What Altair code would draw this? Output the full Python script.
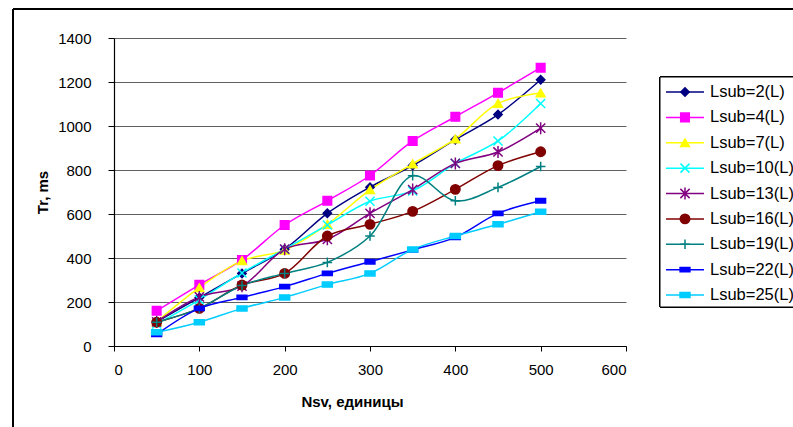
import altair as alt
import pandas as pd

nsv = [50, 100, 150, 200, 250, 300, 350, 400, 450, 500]
series = ["Lsub=2(L)", "Lsub=4(L)", "Lsub=7(L)", "Lsub=10(L)", "Lsub=13(L)",
          "Lsub=16(L)", "Lsub=19(L)", "Lsub=22(L)", "Lsub=25(L)"]
values = {
    "Lsub=2(L)":  [110, 220, 330, 440, 603, 722, 820, 938, 1052, 1210],
    "Lsub=4(L)":  [160, 278, 391, 550, 660, 775, 932, 1042, 1151, 1265],
    "Lsub=7(L)":  [110, 265, 388, 436, 553, 710, 828, 941, 1103, 1150],
    "Lsub=10(L)": [100, 210, 332, 440, 550, 658, 705, 830, 932, 1102],
    "Lsub=13(L)": [110, 223, 272, 440, 485, 603, 711, 830, 882, 990],
    "Lsub=16(L)": [108, 171, 277, 330, 500, 553, 612, 712, 820, 883],
    "Lsub=19(L)": [108, 171, 275, 330, 380, 500, 774, 660, 721, 816],
    "Lsub=22(L)": [53, 171, 221, 270, 330, 383, 437, 494, 603, 660],
    "Lsub=25(L)": [62, 108, 171, 221, 279, 330, 439, 500, 553, 610],
}
colors = ["#000080", "#FF00FF", "#FFFF00", "#00FFFF", "#800080",
          "#800000", "#008080", "#0000FF", "#00CCFF"]
shapes = ["diamond", "square", "triangle-up",
          "M-1,-1L1,1M-1,1L1,-1",
          "M-1,-1L1,1M-1,1L1,-1M0,-1.3L0,1.3",
          "circle",
          "M-1,0L1,0M0,-1L0,1",
          "M-1,-0.45L1,-0.45L1,0.45L-1,0.45Z",
          "M-1,-0.5L1,-0.5L1,0.5L-1,0.5Z"]
sizes = [70, 100, 110, 70, 90, 100, 81, 45, 64]

rows = []
for i, s in enumerate(series):
    for x, v in zip(nsv, values[s]):
        rows.append({"series": s, "nsv": x, "tr": v, "order": i})
df = pd.DataFrame(rows)
leg = pd.DataFrame({"series": series})

FONT = "Liberation Sans"
color = alt.Color("series:N", scale=alt.Scale(domain=series, range=colors), legend=None)
stroke = alt.Stroke("series:N", scale=alt.Scale(domain=series, range=colors), legend=None)
shape = alt.Shape("series:N", scale=alt.Scale(domain=series, range=shapes), legend=None)
size = alt.Size("series:N", scale=alt.Scale(domain=series, range=sizes), legend=None)

axstyle = dict(labelFont=FONT, titleFont=FONT, labelFontSize=15, titleFontSize=15,
               titleFontWeight="bold", labelColor="black", titleColor="black",
               domainColor="black", tickColor="black", domainWidth=1.2, tickWidth=1,
               format="d")

xaxis = alt.Axis(values=[0, 100, 200, 300, 400, 500, 600], grid=False,
                 title="Nsv, единицы", titleX=238, titleY=55,
                 titleAlign="center", titleBaseline="middle",
                 tickSize=5, labelPadding=11, **axstyle)
xenc = alt.X("nsv:Q", scale=alt.Scale(domain=[0, 600], nice=False), axis=xaxis)
yenc = alt.Y("tr:Q", scale=alt.Scale(domain=[0, 1400], nice=False),
             axis=alt.Axis(values=[0, 200, 400, 600, 800, 1000, 1200, 1400], grid=True,
                           gridColor="#606060", gridWidth=1,
                           title="Tr, ms", titleX=-72, titleY=154,
                           titleAlign="center", titleBaseline="middle",
                           tickSize=6, labelPadding=17, **axstyle))
yenc2 = alt.Y("tr:Q", scale=alt.Scale(domain=[0, 1400], nice=False), axis=None)

frame = alt.Chart(leg).mark_rect(fillOpacity=0, stroke="black", strokeWidth=1).encode(
    x=alt.value(-101), x2=alt.value(720), y=alt.value(-29), y2=alt.value(420))

lines = alt.Chart(df).mark_line(interpolate="catmull-rom", strokeWidth=1.5).encode(
    x=xenc, y=yenc, color=color, detail="series:N", order="nsv:Q")
points = alt.Chart(df).mark_point(filled=True, strokeWidth=1.5, opacity=1).encode(
    x=xenc, y=yenc2, color=color, stroke=stroke, shape=shape, size=size)

ly = alt.Y("series:N", scale=alt.Scale(type="point", domain=series, range=[54, 257], padding=0),
           axis=None)
legbox = alt.Chart(leg).mark_rect(fill="white", stroke="black", strokeWidth=1).encode(
    x=alt.value(546), x2=alt.value(700), y=alt.value(39), y2=alt.value(269))
legline = alt.Chart(leg).mark_rule(strokeWidth=1.5).encode(
    x=alt.value(552), x2=alt.value(590), y=ly, color=color)
legpt = alt.Chart(leg).mark_point(filled=True, strokeWidth=1.5, opacity=1).encode(
    x=alt.value(571), y=ly, color=color, stroke=stroke, shape=shape, size=size)
legtxt = alt.Chart(leg).mark_text(align="left", baseline="middle", font=FONT,
                                  fontSize=16.5, color="black").encode(
    x=alt.value(596), y=ly, text="series:N")

chart = alt.layer(frame, lines, points, legbox, legline, legpt, legtxt).resolve_scale(
    y="independent"
).properties(
    width=512, height=308,
    autosize=alt.AutoSizeParams(type="none"),
    padding={"left": 114, "top": 38, "right": 167, "bottom": 81},
    background="white",
).configure_view(stroke=None)

chart.save("out.html", embed_options={"renderer": "svg", "actions": False})
